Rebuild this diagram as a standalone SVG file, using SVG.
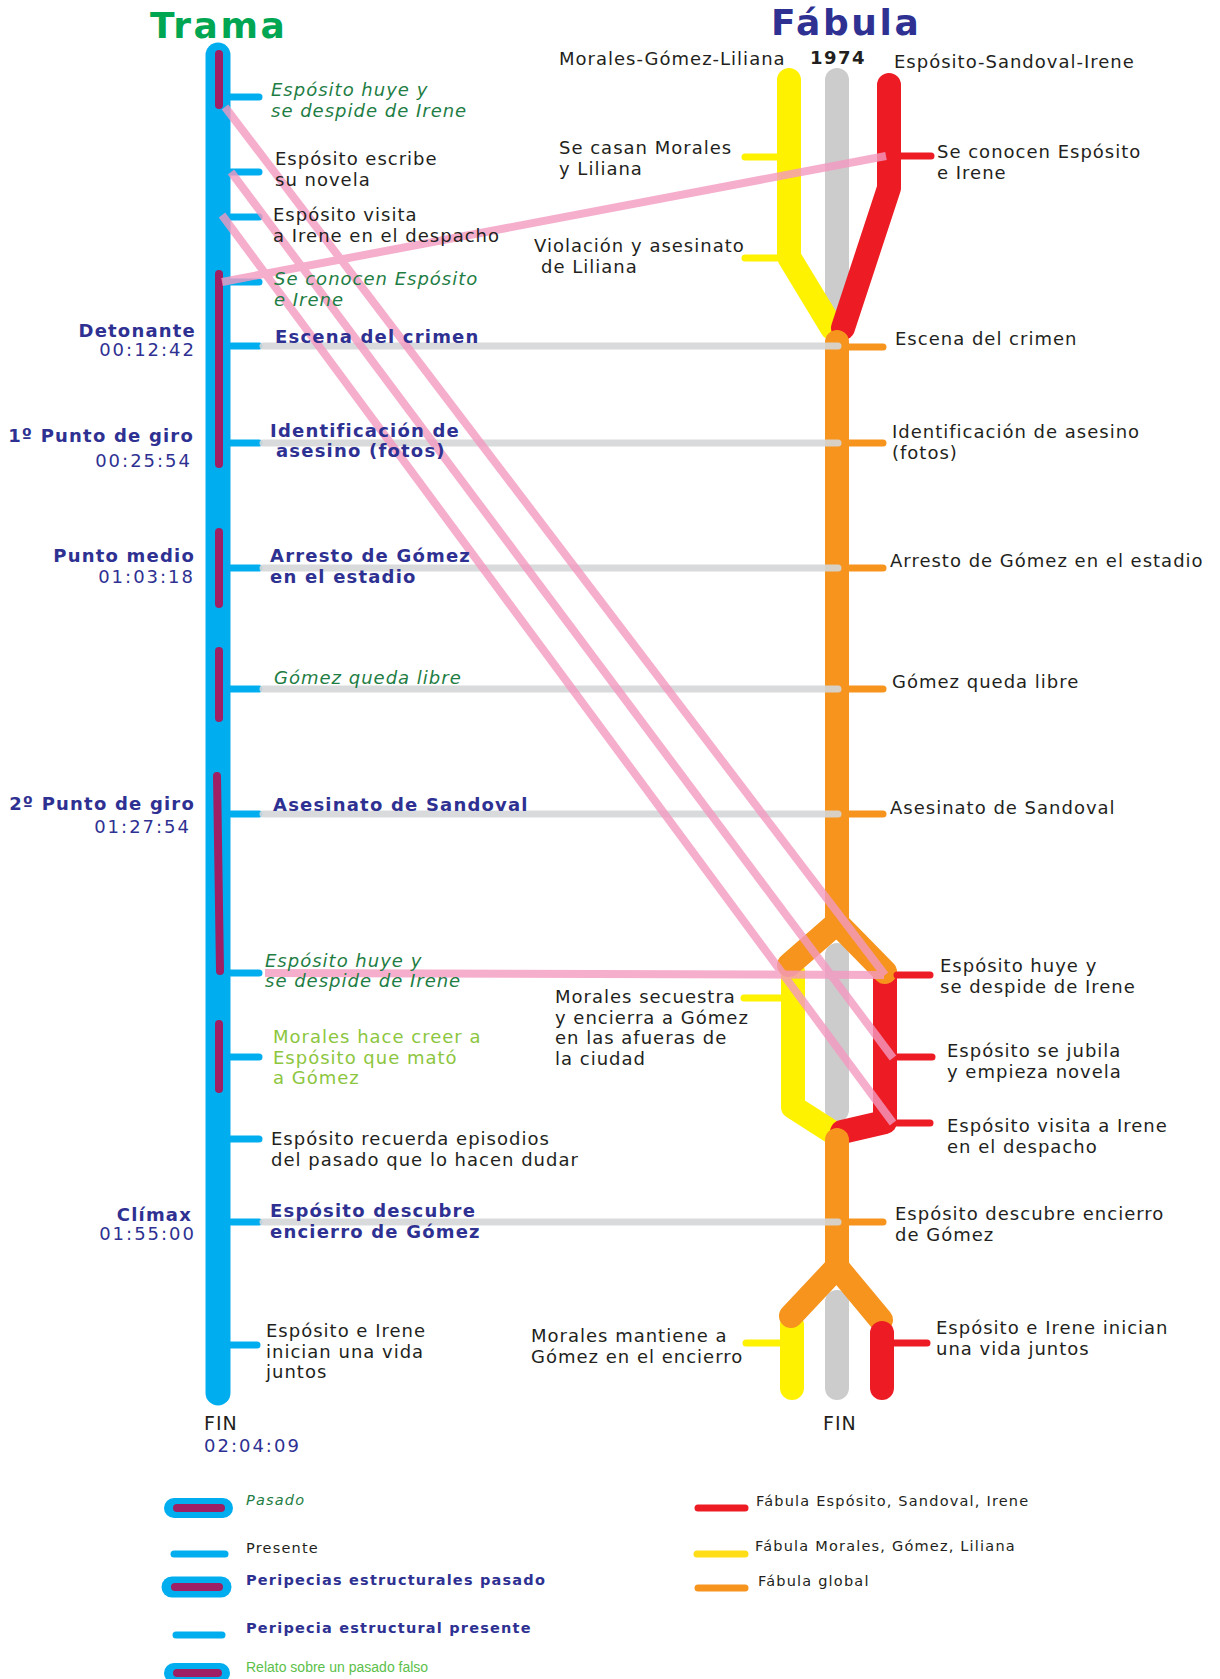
<svg xmlns="http://www.w3.org/2000/svg" width="1220" height="1679" viewBox="0 0 1220 1679">
<style>
text{font-family:"DejaVu Sans",Verdana,sans-serif;font-size:18px;letter-spacing:1px;fill:#231f20}
.b{font-weight:bold;fill:#2e3192;letter-spacing:1.2px}
.tm{fill:#2e3192;letter-spacing:2px}
.i{font-style:italic;fill:#1e7d44}
.lg{fill:#8cc63e}
.ttl{font-weight:bold;font-size:36px;letter-spacing:2.6px}
.r{text-anchor:end}
.leg{font-size:14.5px;letter-spacing:1.2px}
.relato{font-family:"Liberation Sans",Arial,sans-serif;font-size:14px;letter-spacing:0;fill:#5cbf4a}
.st{stroke-linecap:round;fill:none}
.blue{stroke:#00aeef}
.pur{stroke:#9e1f63;stroke-width:8}
.stub{stroke-width:7}
.yel{stroke:#fff200}
.red{stroke:#ed1c24}
.ora{stroke:#f7941d}
.gry{stroke:#cccccc}
.fb{stroke-width:24;stroke-linejoin:round}
.gl{stroke:#d5d6d8;stroke-width:7;opacity:.9}
.pk{stroke:#f49ac1;stroke-width:8;opacity:.8;fill:none}
</style>

<g id="titles">
<text class="ttl" x="150" y="38" style="fill:#00a651">Trama</text>
<text class="ttl" x="771" y="35" style="fill:#2e3192">Fábula</text>
</g>

<g id="trama">
<line class="st blue" x1="218" y1="55" x2="218" y2="1393" stroke-width="25"/>
<g class="st pur">
<line x1="219" y1="54" x2="219" y2="105"/>
<line x1="219" y1="274" x2="219" y2="464"/>
<line x1="219" y1="532" x2="219" y2="604"/>
<line x1="219" y1="651" x2="219" y2="718"/>
<line x1="217" y1="776" x2="220" y2="971"/>
<line x1="219" y1="1024" x2="219" y2="1089"/>
</g>
<g class="st blue stub">
<line x1="231" y1="97" x2="259" y2="97"/>
<line x1="231" y1="172" x2="259" y2="172"/>
<line x1="231" y1="217" x2="259" y2="217"/>
<line x1="231" y1="282" x2="259" y2="282"/>
<line x1="231" y1="346" x2="259" y2="346"/>
<line x1="231" y1="443" x2="259" y2="443"/>
<line x1="231" y1="568" x2="259" y2="568"/>
<line x1="231" y1="689" x2="259" y2="689"/>
<line x1="231" y1="814" x2="259" y2="814"/>
<line x1="231" y1="973" x2="259" y2="973"/>
<line x1="231" y1="1057" x2="259" y2="1057"/>
<line x1="231" y1="1139" x2="259" y2="1139"/>
<line x1="231" y1="1222" x2="259" y2="1222"/>
<line x1="231" y1="1345" x2="257" y2="1345"/>
</g>
</g>

<g id="fabula">
<line class="st gry fb" x1="837" y1="80" x2="837" y2="320"/>
<polyline class="st yel fb" points="789,80 789,257 832,328"/>
<polyline class="st red fb" points="889,85 889,188 843,328"/>
<line class="st ora fb" x1="837" y1="342" x2="837" y2="923"/>
<line class="st gry fb" x1="837" y1="955" x2="837" y2="1110"/>
<polyline class="st yel fb" points="793,972 793,1107 832,1132"/>
<polyline class="st red fb" points="885,978 885,1122 842,1132"/>
<polyline class="st ora fb" points="789,965 837,923 885,972"/>
<line class="st ora fb" x1="837" y1="1140" x2="837" y2="1267"/>
<line class="st gry fb" x1="837" y1="1302" x2="837" y2="1388"/>
<line class="st yel fb" x1="792" y1="1325" x2="792" y2="1388"/>
<polyline class="st ora fb" points="791,1316 837,1267 881,1320"/>
<line class="st red fb" x1="882" y1="1333" x2="882" y2="1388"/>
<g class="st yel stub">
<line x1="745" y1="157" x2="777" y2="157"/>
<line x1="745" y1="258" x2="777" y2="258"/>
<line x1="744" y1="998" x2="781" y2="998"/>
<line x1="746" y1="1343" x2="780" y2="1343"/>
</g>
<g class="st red stub">
<line x1="901" y1="156" x2="931" y2="156"/>
<line x1="897" y1="975" x2="930" y2="975"/>
<line x1="897" y1="1057" x2="932" y2="1057"/>
<line x1="897" y1="1123" x2="930" y2="1123"/>
<line x1="894" y1="1343" x2="927" y2="1343"/>
</g>
<g class="st ora stub">
<line x1="849" y1="347" x2="883" y2="347"/>
<line x1="849" y1="443" x2="883" y2="443"/>
<line x1="849" y1="568" x2="883" y2="568"/>
<line x1="849" y1="689" x2="883" y2="689"/>
<line x1="849" y1="814" x2="883" y2="814"/>
<line x1="849" y1="1222" x2="883" y2="1222"/>
</g>
</g>

<g id="connectors">
<g class="st gl">
<line x1="263" y1="346" x2="838" y2="346"/>
<line x1="263" y1="443" x2="838" y2="443"/>
<line x1="263" y1="568" x2="838" y2="568"/>
<line x1="263" y1="689" x2="838" y2="689"/>
<line x1="263" y1="814" x2="838" y2="814"/>
<line x1="263" y1="1222" x2="838" y2="1222"/>
</g>
<g class="pk">
<line x1="225" y1="107" x2="885" y2="975"/>
<line x1="231" y1="172" x2="893" y2="1058"/>
<line x1="222" y1="215" x2="893" y2="1123"/>
<line x1="222" y1="282" x2="886" y2="156"/>
<line x1="265" y1="973" x2="884" y2="975"/>
</g>
</g>

<g id="trama-markers">
<text class="b r" x="196" y="337">Detonante</text>
<text class="tm r" x="196" y="356">00:12:42</text>
<text class="b r" x="194" y="442">1º Punto de giro</text>
<text class="tm r" x="192" y="467">00:25:54</text>
<text class="b r" x="195" y="562">Punto medio</text>
<text class="tm r" x="195" y="583">01:03:18</text>
<text class="b r" x="195" y="810">2º Punto de giro</text>
<text class="tm r" x="191" y="833">01:27:54</text>
<text class="b r" x="192" y="1221">Clímax</text>
<text class="tm r" x="196" y="1240">01:55:00</text>
<text x="204" y="1430" style="font-size:19px">FIN</text>
<text class="tm" x="204" y="1452">02:04:09</text>
</g>

<g id="trama-labels">
<text class="i" x="271" y="96">Espósito huye y<tspan x="271" dy="21">se despide de Irene</tspan></text>
<text x="275" y="165">Espósito escribe<tspan x="275" dy="21">su novela</tspan></text>
<text x="273" y="221">Espósito visita<tspan x="273" dy="21">a Irene en el despacho</tspan></text>
<text class="i" x="274" y="285">Se conocen Espósito<tspan x="274" dy="21">e Irene</tspan></text>
<text class="b" x="275" y="343">Escena del crimen</text>
<text class="b" x="270" y="437">Identificación de<tspan x="276" dy="20">asesino (fotos)</tspan></text>
<text class="b" x="270" y="562">Arresto de Gómez<tspan x="270" dy="21">en el estadio</tspan></text>
<text class="i" x="274" y="684">Gómez queda libre</text>
<text class="b" x="273" y="811">Asesinato de Sandoval</text>
<text class="i" x="265" y="967">Espósito huye y<tspan x="265" dy="20">se despide de Irene</tspan></text>
<text class="lg" x="273" y="1043">Morales hace creer a<tspan x="273" dy="20.5">Espósito que mató</tspan><tspan x="273" dy="20.5">a Gómez</tspan></text>
<text x="271" y="1145">Espósito recuerda episodios<tspan x="271" dy="20.5">del pasado que lo hacen dudar</tspan></text>
<text class="b" x="270" y="1217">Espósito descubre<tspan x="270" dy="20.5">encierro de Gómez</tspan></text>
<text x="266" y="1337">Espósito e Irene<tspan x="266" dy="20.5">inician una vida</tspan><tspan x="266" dy="20.5">juntos</tspan></text>
</g>

<g id="fabula-labels">
<text x="559" y="65">Morales-Gómez-Liliana</text>
<text x="810" y="64" style="font-weight:bold;letter-spacing:1.5px">1974</text>
<text x="894" y="68">Espósito-Sandoval-Irene</text>
<text x="559" y="154">Se casan Morales<tspan x="559" dy="20.5">y Liliana</tspan></text>
<text x="937" y="158">Se conocen Espósito<tspan x="937" dy="20.5">e Irene</tspan></text>
<text x="534" y="252">Violación y asesinato<tspan x="541" dy="20.5">de Liliana</tspan></text>
<text x="895" y="345">Escena del crimen</text>
<text x="892" y="438">Identificación de asesino<tspan x="892" dy="21">(fotos)</tspan></text>
<text x="890" y="567">Arresto de Gómez en el estadio</text>
<text x="892" y="688">Gómez queda libre</text>
<text x="890" y="814">Asesinato de Sandoval</text>
<text x="940" y="972">Espósito huye y<tspan x="940" dy="20.5">se despide de Irene</tspan></text>
<text x="947" y="1057">Espósito se jubila<tspan x="947" dy="20.5">y empieza novela</tspan></text>
<text x="947" y="1132">Espósito visita a Irene<tspan x="947" dy="20.5">en el despacho</tspan></text>
<text x="555" y="1003">Morales secuestra<tspan x="555" dy="20.7">y encierra a Gómez</tspan><tspan x="555" dy="20.7">en las afueras de</tspan><tspan x="555" dy="20.7">la ciudad</tspan></text>
<text x="895" y="1220">Espósito descubre encierro<tspan x="895" dy="21">de Gómez</tspan></text>
<text x="531" y="1342">Morales mantiene a<tspan x="531" dy="20.5">Gómez en el encierro</tspan></text>
<text x="936" y="1334">Espósito e Irene inician<tspan x="936" dy="20.5">una vida juntos</tspan></text>
<text x="823" y="1430" style="font-size:19px">FIN</text>
</g>

<g id="legend">
<line class="st blue" x1="174" y1="1508" x2="223" y2="1508" stroke-width="20"/>
<line class="st pur" x1="177" y1="1508" x2="221" y2="1508" stroke-width="7"/>
<text class="leg i" x="246" y="1505">Pasado</text>
<line class="st blue" x1="174" y1="1554" x2="225" y2="1554" stroke-width="7"/>
<text class="leg" x="246" y="1553">Presente</text>
<line class="st blue" x1="172" y1="1587" x2="221" y2="1587" stroke-width="21"/>
<line class="st pur" x1="175" y1="1587" x2="219" y2="1587" stroke-width="7"/>
<text class="leg b" x="246" y="1585">Peripecias estructurales pasado</text>
<line class="st blue" x1="176" y1="1635" x2="222" y2="1635" stroke-width="7"/>
<text class="leg b" x="246" y="1633">Peripecia estructural presente</text>
<line class="st blue" x1="174" y1="1673" x2="220" y2="1673" stroke-width="20"/>
<line class="st pur" x1="177" y1="1673" x2="218" y2="1673" stroke-width="7"/>
<text class="relato" x="246" y="1672">Relato sobre un pasado falso</text>
<line class="st red" x1="698" y1="1508" x2="745" y2="1508" stroke-width="7"/>
<text class="leg" x="756" y="1506">Fábula Espósito, Sandoval, Irene</text>
<line class="st" x1="697" y1="1554" x2="745" y2="1554" stroke="#ffde17" stroke-width="7"/>
<text class="leg" x="755" y="1551">Fábula Morales, Gómez, Liliana</text>
<line class="st ora" x1="698" y1="1588" x2="745" y2="1588" stroke-width="7"/>
<text class="leg" x="758" y="1586">Fábula global</text>
</g>
</svg>
